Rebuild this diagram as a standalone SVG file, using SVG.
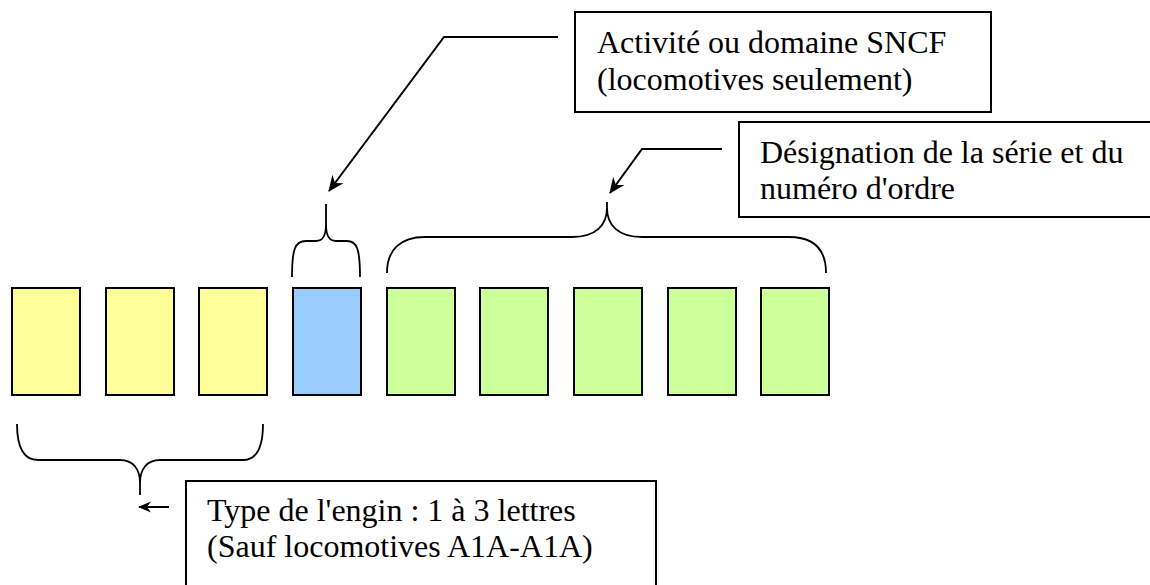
<svg xmlns="http://www.w3.org/2000/svg" width="1150" height="585" viewBox="0 0 1150 585">
<style>
.cell{stroke:#000;stroke-width:2}
.y{fill:#FFFF99}.b{fill:#99CCFF}.g{fill:#CCFF99}
.callout{fill:#fff;stroke:#000;stroke-width:2}
.lbl{font-family:"Liberation Serif","Times New Roman",serif;font-size:32px;fill:#000}
.conn{fill:none;stroke:#000;stroke-width:2;stroke-linejoin:miter}
.brace{fill:none;stroke:#000;stroke-width:1.8}
</style>
<defs>
<marker id="ah" markerUnits="userSpaceOnUse" markerWidth="20" markerHeight="16" viewBox="-16 -8 18 16" refX="0" refY="0" orient="auto">
<path d="M1,0 L-15,-7 L-10,0 L-15,7 Z" fill="#000"/>
</marker>
<marker id="ahs" markerUnits="userSpaceOnUse" markerWidth="16" markerHeight="12" viewBox="-13 -6 14 12" refX="0" refY="0" orient="auto">
<path d="M1,0 L-12,-5.5 L-8,0 L-12,5.5 Z" fill="#000"/>
</marker>
</defs>
<rect width="1150" height="585" fill="#fff"/>
<g id="cells">
<g id="cell1"><rect class="cell y" x="12" y="288" width="68" height="107"/></g>
<g id="cell2"><rect class="cell y" x="106" y="288" width="68" height="107"/></g>
<g id="cell3"><rect class="cell y" x="199" y="288" width="68" height="107"/></g>
<g id="cell4"><rect class="cell b" x="293" y="288" width="68" height="107"/></g>
<g id="cell5"><rect class="cell g" x="387" y="288" width="68" height="107"/></g>
<g id="cell6"><rect class="cell g" x="480" y="288" width="68" height="107"/></g>
<g id="cell7"><rect class="cell g" x="574" y="288" width="68" height="107"/></g>
<g id="cell8"><rect class="cell g" x="668" y="288" width="68" height="107"/></g>
<g id="cell9"><rect class="cell g" x="761" y="288" width="68" height="107"/></g>
</g>
<g id="callout-activite">
<rect class="callout" x="575" y="12" width="416" height="100"/>
<text class="lbl" x="597" y="53">Activité ou domaine SNCF</text>
<text class="lbl" x="597" y="90">(locomotives seulement)</text>
</g>
<g id="callout-serie">
<rect class="callout" x="739" y="122" width="430" height="95"/>
<text class="lbl" x="760" y="163">Désignation de la série et du</text>
<text class="lbl" x="760" y="199">numéro d'ordre</text>
</g>
<g id="callout-type">
<rect class="callout" x="186" y="481" width="470" height="130"/>
<text class="lbl" x="207" y="521">Type de l'engin : 1 à 3 lettres</text>
<text class="lbl" x="207" y="557">(Sauf locomotives A1A-A1A)</text>
</g>
<g id="connectors">
<path class="brace" d="M292,277 C292,249 295,241 306,241 H316 C323,241 326,236 326,224 V204 M326,224 C326,236 329,241 336,241 H347 C357,241 360,249 360,277"/>
<path class="brace" d="M387,273 C387,250 400,237 425,237 H572 C596,237 607,225 607,208 V202 M607,208 C607,225 618,237 642,237 H789 C814,237 826,250 826,273"/>
<path class="brace" d="M17,424 C17,448 24,460 38,460 H120 C133,460 140,469 140,483 V495 M140,483 C140,469 147,460 160,460 H243 C257,460 263,448 263,424"/>
<polyline class="conn" points="558,37 444,37 329,191" marker-end="url(#ah)"/>
<polyline class="conn" points="722,149 642,149 610,193" marker-end="url(#ah)"/>
<line class="conn" x1="169" y1="507" x2="139" y2="507" marker-end="url(#ahs)"/>
</g>
</svg>
